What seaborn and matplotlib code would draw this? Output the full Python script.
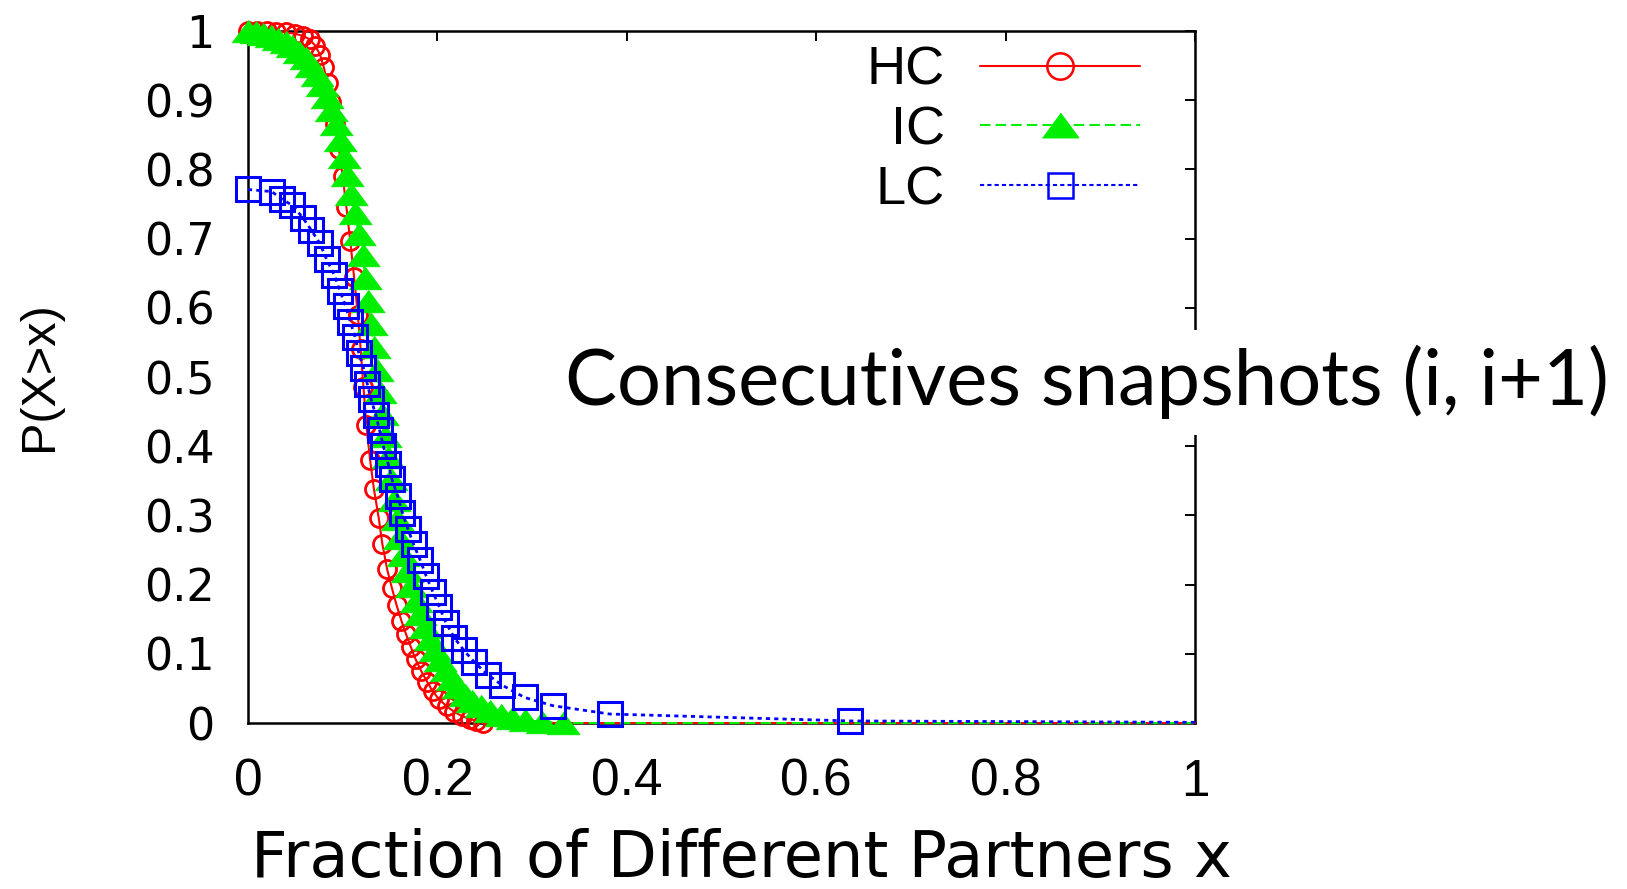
import matplotlib
matplotlib.use("Agg")
import matplotlib.pyplot as plt
from matplotlib.lines import Line2D
import seaborn as sns

# CCDF of the fraction of different partners between consecutive snapshots
x_hc = [0.0, 0.01, 0.02, 0.03, 0.04, 0.05, 0.058, 0.065, 0.071, 0.076, 0.080, 0.084,
        0.088, 0.092, 0.096, 0.100, 0.104, 0.108, 0.112, 0.116, 0.119, 0.122, 0.125,
        0.129, 0.133, 0.138, 0.142, 0.147, 0.152, 0.157, 0.162, 0.167, 0.172, 0.177,
        0.183, 0.189, 0.195, 0.202, 0.210, 0.218, 0.226, 0.234, 0.241, 0.248, 1.0]
y_hc = [1.0, 1.0, 1.0, 0.999, 0.998, 0.996, 0.993, 0.988, 0.979, 0.966, 0.948, 0.925,
        0.898, 0.866, 0.830, 0.790, 0.745, 0.697, 0.645, 0.590, 0.540, 0.485, 0.430,
        0.380, 0.338, 0.297, 0.258, 0.222, 0.195, 0.170, 0.148, 0.128, 0.110, 0.092,
        0.075, 0.060, 0.046, 0.034, 0.024, 0.016, 0.010, 0.006, 0.003, 0.0, 0.0]

x_ic = [0.0, 0.008, 0.016, 0.024, 0.032, 0.040, 0.047, 0.054, 0.061, 0.067, 0.073,
        0.078, 0.083, 0.088, 0.093, 0.097, 0.101, 0.105, 0.109, 0.113, 0.117, 0.121,
        0.124, 0.127, 0.130, 0.133, 0.136, 0.139, 0.142, 0.145, 0.148, 0.151, 0.154,
        0.157, 0.160, 0.164, 0.168, 0.172, 0.177, 0.182, 0.187, 0.192, 0.197, 0.203,
        0.209, 0.215, 0.222, 0.229, 0.237, 0.246, 0.256, 0.267, 0.279, 0.293, 0.310,
        0.333, 1.0]
y_ic = [1.0, 0.998, 0.996, 0.993, 0.989, 0.984, 0.978, 0.970, 0.961, 0.950, 0.937,
        0.922, 0.905, 0.886, 0.865, 0.842, 0.818, 0.792, 0.765, 0.737, 0.707, 0.676,
        0.643, 0.610, 0.577, 0.543, 0.510, 0.478, 0.447, 0.415, 0.384, 0.353, 0.323,
        0.295, 0.268, 0.243, 0.220, 0.198, 0.177, 0.157, 0.139, 0.122, 0.106, 0.091,
        0.077, 0.064, 0.052, 0.041, 0.032, 0.024, 0.017, 0.011, 0.007, 0.004, 0.002,
        0.0, 0.0]

x_lc = [0.0, 0.025, 0.036, 0.047, 0.058, 0.067, 0.076, 0.083, 0.091, 0.097, 0.103,
        0.108, 0.113, 0.117, 0.122, 0.126, 0.130, 0.135, 0.139, 0.143, 0.148, 0.152,
        0.158, 0.163, 0.169, 0.175, 0.182, 0.188, 0.195, 0.202, 0.209, 0.218, 0.228,
        0.239, 0.253, 0.268, 0.292, 0.322, 0.382, 0.636, 1.0]
y_lc = [0.771, 0.768, 0.757, 0.748, 0.730, 0.712, 0.693, 0.670, 0.648, 0.625, 0.603,
        0.580, 0.558, 0.535, 0.513, 0.490, 0.468, 0.445, 0.423, 0.400, 0.375, 0.352,
        0.328, 0.304, 0.280, 0.258, 0.235, 0.213, 0.190, 0.168, 0.145, 0.123, 0.105,
        0.088, 0.070, 0.055, 0.037, 0.025, 0.013, 0.003, 0.001]

series_names = ["HC", "IC", "LC"]
x_ticks = [0, 0.2, 0.4, 0.6, 0.8, 1]
x_tick_labels = ["0", "0.2", "0.4", "0.6", "0.8", "1"]
y_ticks = [0, 0.1, 0.2, 0.3, 0.4, 0.5, 0.6, 0.7, 0.8, 0.9, 1]
y_tick_labels = ["0", "0.1", "0.2", "0.3", "0.4", "0.5", "0.6", "0.7", "0.8", "0.9", "1"]

RED, GREEN, BLUE = "#ff0000", "#00ee00", "#0000ff"
tri = [(-1, -0.68), (1, -0.68), (0, 0.68)]

sns.set_style("white")
plt.rcParams["font.family"] = ["Liberation Sans", "DejaVu Sans"]
plt.rcParams["text.color"] = "black"
plt.rcParams["axes.labelcolor"] = "black"
plt.rcParams["xtick.color"] = "black"
plt.rcParams["ytick.color"] = "black"

fig = plt.figure(figsize=(16.27, 8.89), dpi=100)
ax = fig.add_axes([0.1524, 0.1867, 0.5821, 0.7784])

common = dict(ax=ax, estimator=None, sort=False, legend=False, clip_on=False)
sns.lineplot(x=x_hc, y=y_hc, color=RED, lw=1.5, linestyle="-", marker="o", ms=13,
             mfc="none", mec=RED, mew=2.0, markevery=list(range(len(x_hc) - 1)),
             zorder=3, **common)
sns.lineplot(x=x_ic, y=y_ic, color=GREEN, lw=1.5, linestyle=(0, (5, 2.5)), marker=tri,
             ms=24, mfc=GREEN, mec=GREEN, mew=0.5, markevery=list(range(len(x_ic) - 1)),
             zorder=4, **common)
sns.lineplot(x=x_lc, y=y_lc, color=BLUE, lw=2.0, linestyle=(0, (1.5, 1.5)), marker="s",
             ms=17, mfc="none", mec=BLUE, mew=2.2, markevery=list(range(len(x_lc) - 1)),
             zorder=5, **common)

ax.set_xlim(0, 1)
ax.set_ylim(0, 1)
ax.set_xticks(x_ticks)
ax.set_xticklabels(x_tick_labels)
ax.set_yticks(y_ticks)
ax.set_yticklabels(y_tick_labels)
ax.tick_params(axis="both", direction="in", length=7, width=1.4, color="black",
               labelcolor="black", top=True, right=True)
ax.tick_params(axis="x", labelsize=37, pad=25)
ax.tick_params(axis="y", pad=24)
for lab in ax.get_yticklabels():
    lab.set_fontfamily("DejaVu Sans")
    lab.set_fontsize(32)
for s in ax.spines.values():
    s.set_visible(True)
    s.set_color("black")
    s.set_linewidth(1.8)

ax.set_xlabel("Fraction of Different Partners x", fontsize=46, family="DejaVu Sans")
ax.set_ylabel("P(X>x)", fontsize=35)
ax.xaxis.set_label_coords(0.521, -0.152)
ax.yaxis.set_label_coords(-0.196, 0.501)

handles = [
    Line2D([], [], color=RED, lw=1.5, marker="o", ms=19, mfc="none", mec=RED, mew=1.8),
    Line2D([], [], color=GREEN, lw=1.5, linestyle=(0, (5, 2.5)), marker=tri, ms=26,
           mfc=GREEN, mec=GREEN),
    Line2D([], [], color=BLUE, lw=1.5, linestyle=(0, (2, 1.5)), marker="s", ms=18,
           mfc="none", mec=BLUE, mew=1.8),
]
ax.legend(handles, series_names, loc="upper right", bbox_to_anchor=(0.942, 0.979),
          markerfirst=False, frameon=False, fontsize=39, handlelength=2.95,
          handletextpad=0.65, labelspacing=0.18, borderpad=0, borderaxespad=0)

fig.text(0.668, 0.570, "Consecutives snapshots (i, i+1)", fontsize=56,
         family=["Lato", "DejaVu Sans"], ha="center", va="center", color="black",
         bbox=dict(boxstyle="square,pad=0.2", fc="white", ec="none"), zorder=10)

fig.savefig("out.png", dpi=100, facecolor="white")
